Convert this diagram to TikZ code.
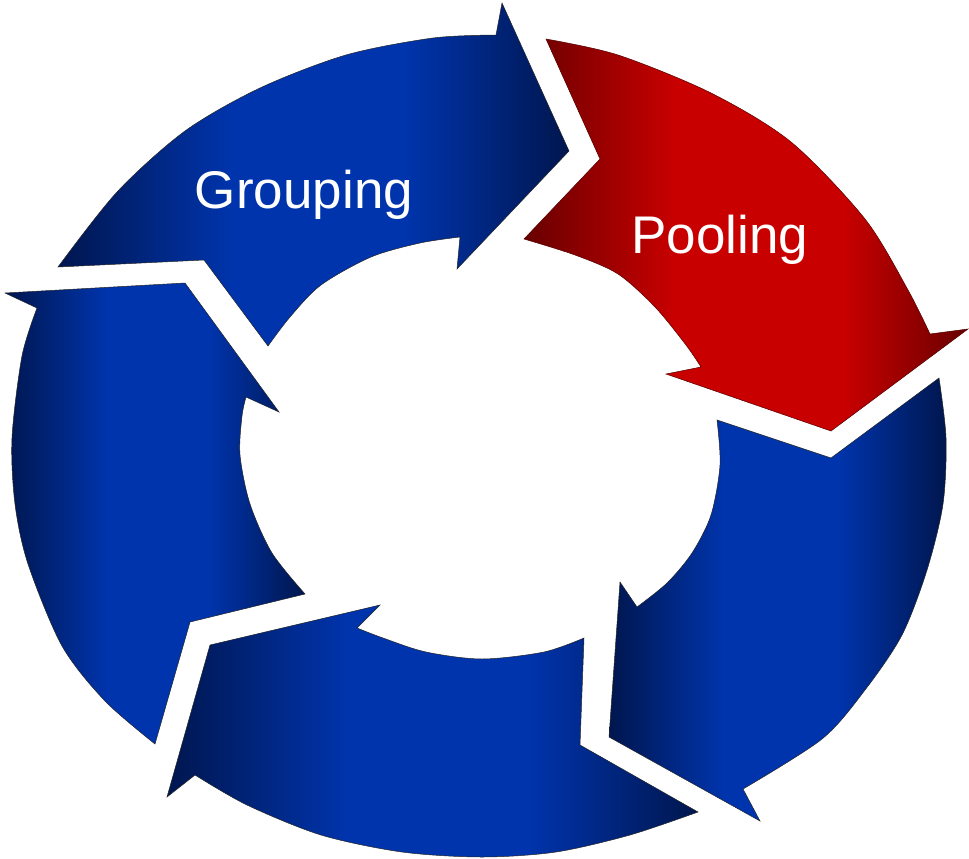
\documentclass[tikz,border=0pt]{standalone}
\usepackage{fontspec}
\newfontfamily\labfont{Liberation Sans}
\definecolor{bluebright}{RGB}{0,52,172}
\definecolor{bluedark}{RGB}{0,22,78}
\definecolor{redbright}{RGB}{200,0,0}
\definecolor{reddark}{RGB}{104,0,0}
\pgfdeclarehorizontalshading{blueband}{100bp}{color(0bp)=(bluedark); color(25bp)=(bluedark); color(42bp)=(bluebright); color(59bp)=(bluebright); color(75bp)=(bluedark); color(100bp)=(bluedark)}
\pgfdeclarehorizontalshading{redband}{100bp}{color(0bp)=(reddark); color(25bp)=(reddark); color(42bp)=(redbright); color(61bp)=(redbright); color(75bp)=(reddark); color(100bp)=(reddark)}
\tikzset{
  bluearrow/.style={draw=black!85, line width=0.5pt, line join=miter,
    shade, shading=blueband, shading angle=0},
  redarrow/.style={draw=reddark!80!black, line width=0.5pt, line join=miter,
    shade, shading=redband, shading angle=0},
  labeltext/.style={text=white, font=\labfont\fontsize{53}{60}\selectfont, anchor=base, inner sep=0pt}
}
\begin{document}
\begin{tikzpicture}[x=1pt,y=-1pt]
\useasboundingbox (0,0) rectangle (969,859);
% Grouping arrow (top left)
\draw[bluearrow] (58,267) -- (204,260) -- (268,346)
  -- plot[smooth] coordinates {(268,346) (290,317) (321,285) (371,257) (420,243) (460,237)}
  -- (457,269) -- (569,151) -- (502,3) -- (496,35)
  -- plot[smooth] coordinates {(496,35) (433,38) (346,55) (260,88) (185,131) (117,192) (58,267)}
  -- cycle;
% Pooling arrow (top right, red)
\draw[redarrow] (546,39) -- (600,159) -- (524,239)
  -- plot[smooth] coordinates {(524,239) (575,255) (618,274) (655,307) (686,345) (701,367)}
  -- (666,374) -- (831,431) -- (968,329) -- (930,334)
  -- plot[smooth] coordinates {(930,334) (908,290) (865,219) (791,142) (711,93) (618,55) (546,39)}
  -- cycle;
% right arrow
\draw[bluearrow] (939,378) -- (831,458) -- (717,420)
  -- plot[smooth] coordinates {(717,420) (720,465) (711,515) (692,553) (667,583) (637,607)}
  -- (620,582) -- (609,737) -- (760,821) -- (743,789)
  -- plot[smooth] coordinates {(743,789) (822,739) (865,690) (902,635) (927,570) (943,504) (946,438) (939,378)}
  -- cycle;
% bottom arrow
\draw[bluearrow] (698,812) -- (580,745) -- (584,638)
  -- plot[smooth] coordinates {(584,638) (544,652) (482,659) (426,652) (383,638) (357,628)}
  -- (380,605) -- (210,645) -- (167,797) -- (195,775)
  -- plot[smooth] coordinates {(195,775) (247,805) (321,835) (402,852) (482,857) (556,852) (630,835) (698,812)}
  -- cycle;
% left arrow
\draw[bluearrow] (155,744) -- (190,622) -- (305,594)
  -- plot[smooth] coordinates {(305,594) (272,553) (250,504) (240,455) (242,416) (246,397)}
  -- (279,412) -- (185,283) -- (5,293) -- (37,308)
  -- plot[smooth] coordinates {(37,308) (22,356) (12,438) (15,504) (28,564) (62,646) (105,701) (155,744)}
  -- cycle;
\node[labeltext] (grouping) at (304,208) {Grouping};
\node[labeltext] (pooling) at (720,253) {Pooling};
\end{tikzpicture}
\end{document}
